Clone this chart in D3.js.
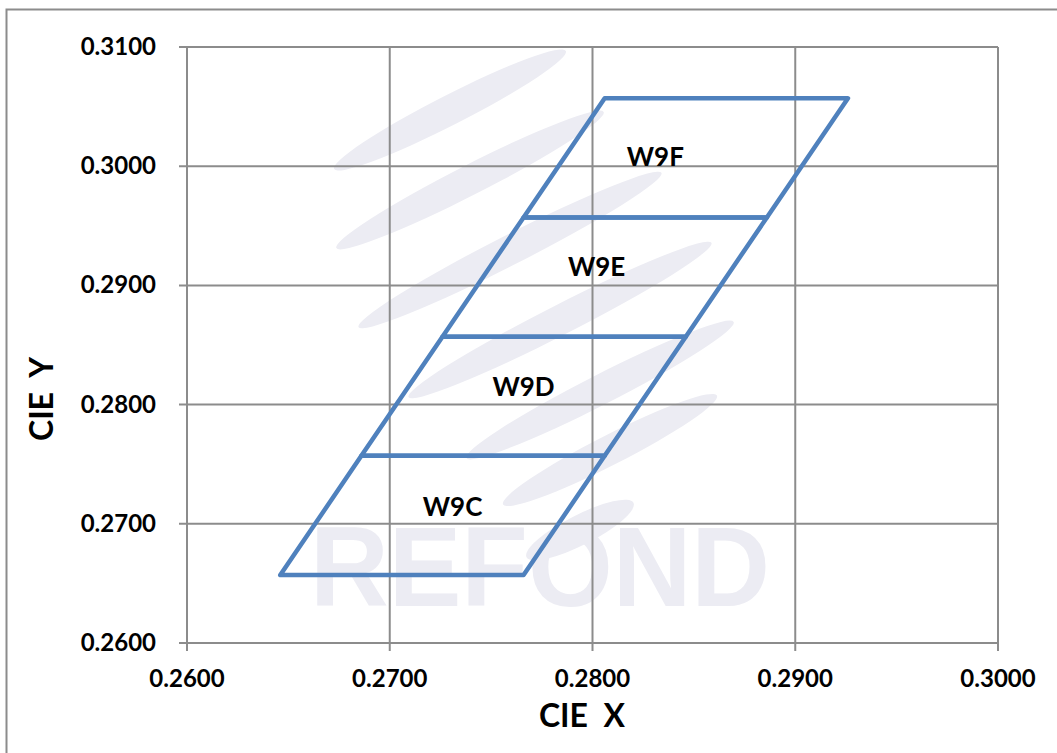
<!DOCTYPE html>
<html>
<head>
<meta charset="utf-8">
<script src="https://cdn.jsdelivr.net/npm/d3@7"></script>
<style>
  body { margin: 0; background: #fff; }
  svg { display: block; font-family: Lato, "Open Sans", sans-serif; }
</style>
</head>
<body>
<div id="chart"></div>
<script>
// bin names and their corner coordinates (bottom-left, bottom-right, top-right, top-left)
const binNames = ["W9C", "W9D", "W9E", "W9F"];
const binCornersX = [
  [0.2646, 0.2766, 0.2806, 0.2686],
  [0.2686, 0.2806, 0.2846, 0.2726],
  [0.2726, 0.2846, 0.2886, 0.2766],
  [0.2766, 0.2886, 0.2926, 0.2806],
];
const binCornersY = [
  [0.2657, 0.2657, 0.2757, 0.2757],
  [0.2757, 0.2757, 0.2857, 0.2857],
  [0.2857, 0.2857, 0.2957, 0.2957],
  [0.2957, 0.2957, 0.3057, 0.3057],
];
const labelX = [0.2731, 0.2766, 0.2802, 0.2831];
const labelY = [0.2713, 0.2814, 0.2915, 0.3007];
const xTicks = [0.26, 0.27, 0.28, 0.29, 0.30];
const yTicks = [0.26, 0.27, 0.28, 0.29, 0.30, 0.31];

const width = 1057;
const height = 753;
const marginLeft = 187;
const marginRight = 59;
const marginTop = 47;
const marginBottom = 110;

const svg = d3.select("#chart").append("svg")
  .attr("width", width)
  .attr("height", height);

// outer chart border (only top and left are visible)
svg.append("rect")
  .attr("x", 6.5).attr("y", 9.5)
  .attr("width", 1100).attr("height", 800)
  .attr("fill", "none")
  .attr("stroke", "#8c8c8c")
  .attr("stroke-width", 2);

const x = d3.scaleLinear()
  .domain([0.26, 0.30])
  .range([marginLeft, width - marginRight]);

const y = d3.scaleLinear()
  .domain([0.26, 0.31])
  .range([height - marginBottom, marginTop]);

// faint watermark
const wm = svg.append("g").attr("fill", "#ececf3");
[[450, 110, 130], [470, 180, 150], [510, 250, 170], [560, 320, 170], [600, 390, 150], [610, 450, 120], [580, 530, 60]].forEach((p) => {
  wm.append("ellipse")
    .attr("cx", p[0]).attr("cy", p[1])
    .attr("rx", p[2]).attr("ry", 15)
    .attr("transform", `rotate(-27, ${p[0]}, ${p[1]})`);
});
wm.append("text")
  .attr("x", 540).attr("y", 606)
  .attr("text-anchor", "middle")
  .attr("font-family", "'Liberation Sans Narrow', 'Liberation Sans', sans-serif")
  .attr("font-weight", "bold")
  .attr("font-size", 114)
  .attr("textLength", 460)
  .attr("lengthAdjust", "spacingAndGlyphs")
  .text("REFOND");

// gridlines
svg.append("g")
  .attr("stroke", "#8c8c8c")
  .attr("stroke-width", 2)
  .selectAll("line.vx")
  .data(xTicks)
  .join("line")
  .attr("x1", (d) => x(d)).attr("x2", (d) => x(d))
  .attr("y1", y(0.31)).attr("y2", y(0.26) + 8);

svg.append("g")
  .attr("stroke", "#8c8c8c")
  .attr("stroke-width", 2)
  .selectAll("line.hy")
  .data(yTicks)
  .join("line")
  .attr("y1", (d) => y(d)).attr("y2", (d) => y(d))
  .attr("x1", x(0.26) - 8).attr("x2", x(0.30));

// tick labels
svg.append("g")
  .selectAll("text")
  .data(xTicks)
  .join("text")
  .attr("x", (d) => x(d))
  .attr("y", y(0.26) + 44)
  .attr("text-anchor", "middle")
  .attr("font-weight", "bold")
  .attr("font-size", 24)
  .text((d) => d3.format(".4f")(d));

svg.append("g")
  .selectAll("text")
  .data(yTicks)
  .join("text")
  .attr("x", x(0.26) - 31)
  .attr("y", (d) => y(d) + 8)
  .attr("text-anchor", "end")
  .attr("font-weight", "bold")
  .attr("font-size", 24)
  .text((d) => d3.format(".4f")(d));

// axis titles
svg.append("text")
  .attr("x", 582).attr("y", 727)
  .attr("text-anchor", "middle")
  .attr("font-weight", "bold")
  .attr("font-size", 32)
  .attr("xml:space", "preserve")
  .text("CIE  X");

svg.append("text")
  .attr("transform", "translate(53, 399) rotate(-90)")
  .attr("text-anchor", "middle")
  .attr("font-weight", "bold")
  .attr("font-size", 32)
  .attr("xml:space", "preserve")
  .text("CIE  Y");

// bins
const line = d3.line()
  .x((d) => x(d[0]))
  .y((d) => y(d[1]));

svg.append("g")
  .selectAll("path")
  .data(binNames.map((name, i) => binCornersX[i].map((cx, j) => [cx, binCornersY[i][j]])))
  .join("path")
  .attr("d", (d) => line(d) + "Z")
  .attr("fill", "none")
  .attr("stroke", "#4f81bd")
  .attr("stroke-width", 4.5)
  .attr("stroke-linejoin", "round");

svg.append("g")
  .selectAll("text")
  .data(binNames)
  .join("text")
  .attr("x", (d, i) => x(labelX[i]))
  .attr("y", (d, i) => y(labelY[i]) + 8)
  .attr("text-anchor", "middle")
  .attr("font-weight", "bold")
  .attr("font-size", 26)
  .text((d) => d);
</script>
</body>
</html>
